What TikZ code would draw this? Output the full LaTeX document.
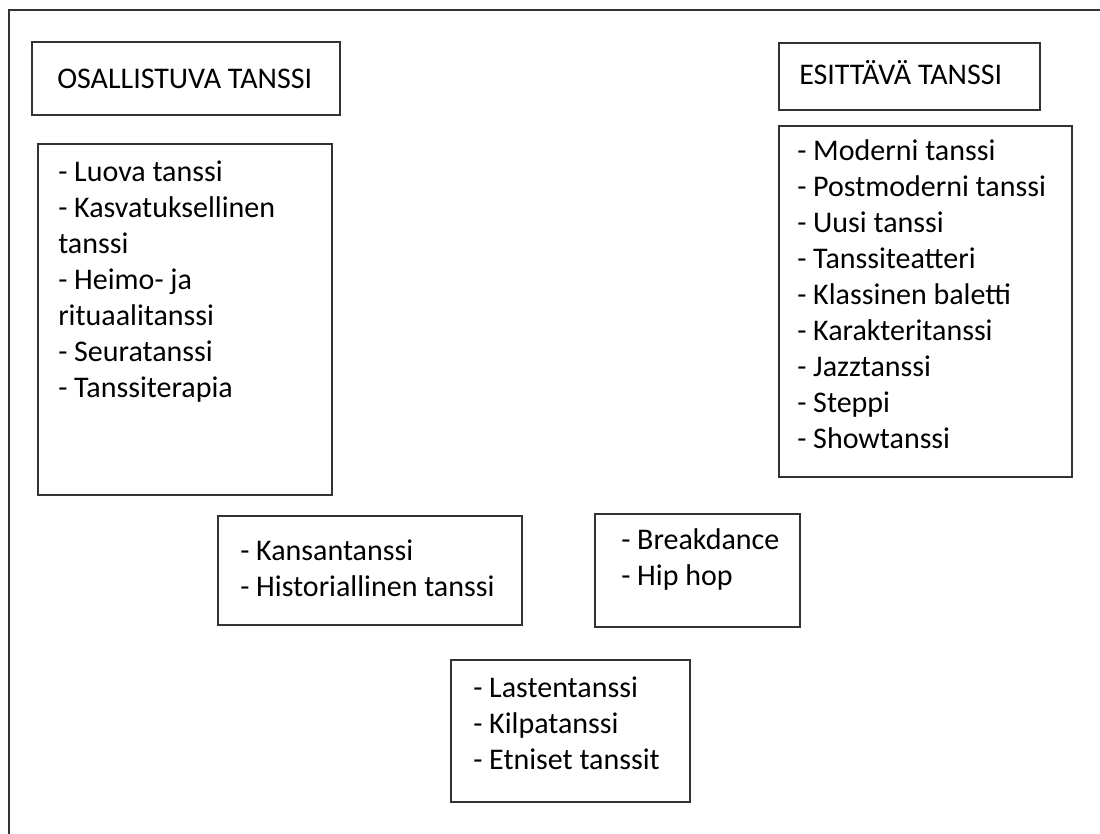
\documentclass[tikz,border=0pt]{standalone}
\usepackage{fontspec}
\setmainfont{Carlito}
\usetikzlibrary{fit}
\begin{document}
\begin{tikzpicture}[x=0.75pt,y=-0.75pt,
  box/.style={draw=black!80, line width=1.5pt, rectangle, inner sep=0pt},
  txt/.style={anchor=base west, inner sep=0pt, font=\fontsize{22.5}{27}\selectfont},
  frame/.style={draw=black!80, line width=1.5pt}]
\useasboundingbox (0,0) rectangle (1100,834);
\clip (0,0) rectangle (1100,834);
\fill[white] (0,0) rectangle (1100,834);
\draw[frame] (8.5,850) -- (8.5,10) -- (1120,10);

\node[box, fit={(32,42) (340,115)}] (b1) {};
\node[box, fit={(38,144) (332,495)}] (b2) {};
\node[box, fit={(779,43) (1040,110)}] (b3) {};
\node[box, fit={(779,126) (1072,477)}] (b4) {};
\node[box, fit={(218,516) (522,625)}] (b5) {};
\node[box, fit={(595,514) (800,627)}] (b6) {};
\node[box, fit={(451,660) (690,802)}] (b7) {};

\node[txt] (t1) at (57,89) {OSALLISTUVA TANSSI};
\node[txt] (t2) at (58,182) {\begin{tabular}[t]{@{}l@{}}- Luova tanssi\\- Kasvatuksellinen\\tanssi\\- Heimo- ja\\rituaalitanssi\\- Seuratanssi\\- Tanssiterapia\end{tabular}};
\node[txt] (t3) at (799,85) {ESITTÄVÄ TANSSI};
\node[txt] (t4) at (797,161) {\begin{tabular}[t]{@{}l@{}}- Moderni tanssi\\- Postmoderni tanssi\\- Uusi tanssi\\- Tanssiteatteri\\- Klassinen baletti\\- Karakteritanssi\\- Jazztanssi\\- Steppi\\- Showtanssi\end{tabular}};
\node[txt] (t5) at (240,560) {\begin{tabular}[t]{@{}l@{}}- Kansantanssi\\- Historiallinen tanssi\end{tabular}};
\node[txt] (t6) at (621,549) {\begin{tabular}[t]{@{}l@{}}- Breakdance\\- Hip hop\end{tabular}};
\node[txt] (t7) at (473,697) {\begin{tabular}[t]{@{}l@{}}- Lastentanssi\\- Kilpatanssi\\- Etniset tanssit\end{tabular}};
\end{tikzpicture}
\end{document}
